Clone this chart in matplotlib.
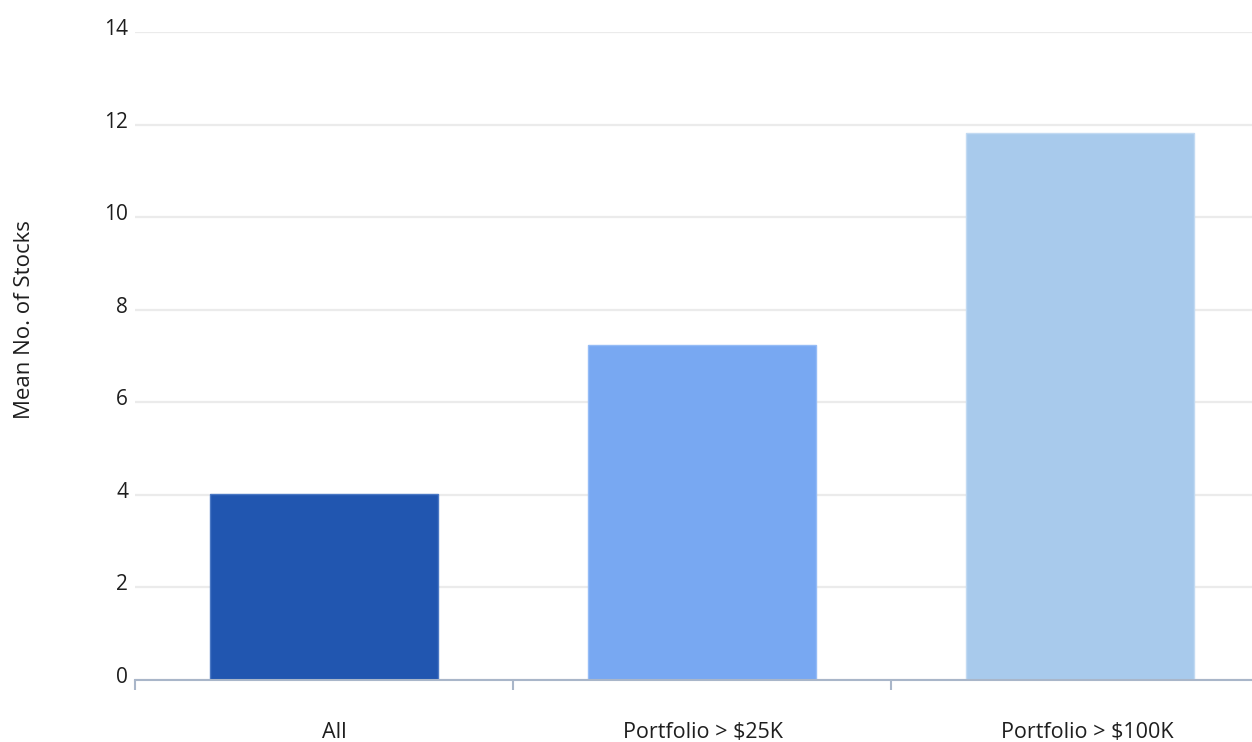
import matplotlib
matplotlib.use("Agg")
import matplotlib.pyplot as plt
import matplotlib.transforms as mtransforms

categories = ["All", "Portfolio > $25K", "Portfolio > $100K"]
mean_stocks = [4.02, 7.24, 11.82]
bar_colors = ["#2156B0", "#78A8F2", "#A8CAEC"]
edge_colors = ["#4A78C4", "#95BCF6", "#C2DAF2"]
y_ticks = [0, 2, 4, 6, 8, 10, 12, 14]

plt.rcParams["font.family"] = ["Open Sans", "DejaVu Sans"]
FS = 15.5
TXT = "#1E1E1E"

W, H = 1252, 742
fig = plt.figure(figsize=(W / 100, H / 100), dpi=100)
left, right, bottom, top = 135, 1252, 680, 32
ax = fig.add_axes([left / W, 1 - bottom / H, (right - left) / W, (bottom - top) / H])

x = list(range(len(categories)))
ax.bar(x, mean_stocks, width=0.605, color=bar_colors, edgecolor=edge_colors,
       linewidth=1.0, zorder=3)

# horizontal gridlines
ax.set_yticks(y_ticks)
ax.yaxis.grid(True, color="#EBEBEB", linewidth=1.6, zorder=0)
ax.xaxis.grid(False)
ax.tick_params(axis="y", length=0, pad=5, labelsize=15, colors=TXT)
offset = mtransforms.ScaledTranslation(0, 5 / 100, fig.dpi_scale_trans)
for lbl in ax.get_yticklabels():
    lbl.set_transform(lbl.get_transform() + offset)

# band-edge tick marks below the category axis
ax.set_xticks([-0.5, 0.5, 1.5, 2.5], minor=False)
ax.set_xticklabels([])
ax.tick_params(axis="x", which="major", length=7.5, width=1.5, color="#A9B6C9",
               direction="out")
ax.set_xticks(x, minor=True)
ax.set_xticklabels(categories, minor=True)
ax.tick_params(axis="x", which="minor", length=0, pad=30, labelsize=FS,
               colors=TXT)
label_shift = [10, 1, 7]
for lbl, dx in zip(ax.get_xticklabels(minor=True), label_shift):
    lbl.set_transform(lbl.get_transform()
                      + mtransforms.ScaledTranslation(dx / 100, 0, fig.dpi_scale_trans))

# each category band is 378 px wide; the last band runs past the right edge
band = 378.0
ax.set_xlim(-0.5, -0.5 + (right - left) / band)
ax.set_ylim(0, 14)

for s in ["top", "right", "left"]:
    ax.spines[s].set_visible(False)
ax.spines["bottom"].set_color("#A9B6C9")
ax.spines["bottom"].set_linewidth(1.5)
ax.spines["bottom"].set_zorder(4)

fig.text(25 / W, 1 - 320 / H, "Mean No. of Stocks", rotation=90,
         ha="center", va="center", fontsize=FS + 0.5, color=TXT)

fig.savefig("out.png", dpi=100, facecolor="white")
